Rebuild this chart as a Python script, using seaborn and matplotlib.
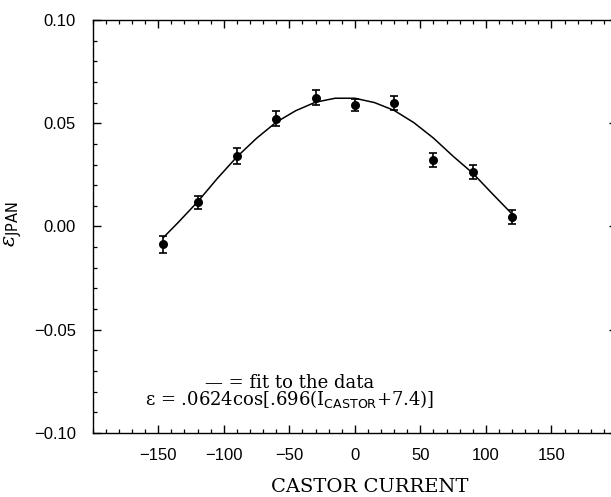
import matplotlib
matplotlib.use("Agg")
import matplotlib.pyplot as plt
from matplotlib.ticker import MultipleLocator, FuncFormatter
import seaborn as sns
import pandas as pd

# ---- data ----
castor_current = [-146, -120, -90, -60, -30, 0, 30, 60, 90, 120]
eps_jpan = [-0.0087, 0.0118, 0.0340, 0.0522, 0.0624, 0.0587, 0.0598, 0.0323, 0.0263, 0.0045]
eps_err = [0.0039, 0.0031, 0.0038, 0.0036, 0.0035, 0.0030, 0.0035, 0.0033, 0.0034, 0.0034]

fit_x = [-146, -135, -120, -105, -90, -75, -60, -45, -30, -15, 0, 15, 30, 45, 60, 75, 90, 105, 120]
fit_y = [-0.0053, 0.0018, 0.0119, 0.0232, 0.0337, 0.0427, 0.0505, 0.0561, 0.0602, 0.0621, 0.0621,
         0.0600, 0.0562, 0.0503, 0.0428, 0.0340, 0.0258, 0.0158, 0.0060]

x_ticks = [-150, -100, -50, 0, 50, 100, 150]
y_ticks = [-0.10, -0.05, 0.00, 0.05, 0.10]

legend_line1 = "\u2014 = fit to the data"
legend_line2 = "\u03b5 = .0624cos[.696(I$_{\\mathsf{CASTOR}}$+7.4)]"
x_label = "CASTOR CURRENT"
y_label = r"$\varepsilon_{\mathsf{JPAN}}$"

df = pd.DataFrame({"x": castor_current, "y": eps_jpan, "err": eps_err})
fit_df = pd.DataFrame({"x": fit_x, "y": fit_y})

sns.set_theme(style="ticks")
plt.rcParams["font.family"] = ["Liberation Sans", "DejaVu Sans"]
plt.rcParams["mathtext.fontset"] = "dejavuserif"
plt.rcParams["axes.linewidth"] = 1.0

fig = plt.figure(figsize=(6.11, 4.97), dpi=100)
ax = fig.add_axes([0.1517, 0.1288, 0.8581, 0.8310])

sns.lineplot(data=fit_df, x="x", y="y", color="black", linewidth=1.1, ax=ax, sort=False)
ax.errorbar(df["x"], df["y"], yerr=df["err"], fmt="none", ecolor="black",
            elinewidth=1.2, capsize=2.6, capthick=1.2, zorder=3)
sns.scatterplot(data=df, x="x", y="y", color="black", s=42, edgecolor="black",
                linewidth=0, ax=ax, zorder=4)

ax.set_xlim(-200, 200)
ax.set_ylim(-0.10, 0.10)
ax.set_xticks(x_ticks)
ax.set_yticks(y_ticks)
ax.yaxis.set_major_formatter(FuncFormatter(lambda v, p: f"{v:.2f}".replace("-", "\u2212")))
ax.xaxis.set_major_formatter(FuncFormatter(lambda v, p: f"{v:.0f}".replace("-", "\u2212")))
ax.xaxis.set_minor_locator(MultipleLocator(10))
ax.yaxis.set_minor_locator(MultipleLocator(0.01))
ax.tick_params(which="both", direction="in", top=True, right=True, color="black")
ax.tick_params(which="major", length=6, width=1.0, labelsize=12, labelcolor="black")
ax.tick_params(which="minor", length=3, width=0.9)
ax.tick_params(axis="x", pad=11)
ax.tick_params(axis="y", pad=12)
for sp in ax.spines.values():
    sp.set_color("black")

ax.set_xlabel(x_label, fontsize=14, family="DejaVu Serif", color="black")
ax.xaxis.label.set_va("baseline")
ax.xaxis.set_label_coords(0.529, -0.143)
ax.set_ylabel(y_label, fontsize=15, color="black")
ax.yaxis.label.set_va("center")
ax.yaxis.set_label_coords(-0.152, 0.506)

ax.text(-50, -0.0800, legend_line1 + "\n" + legend_line2, ha="center", va="center",
        multialignment="center", linespacing=0.78, fontsize=13,
        family="DejaVu Serif", color="black")

fig.savefig("out.png", dpi=100)
